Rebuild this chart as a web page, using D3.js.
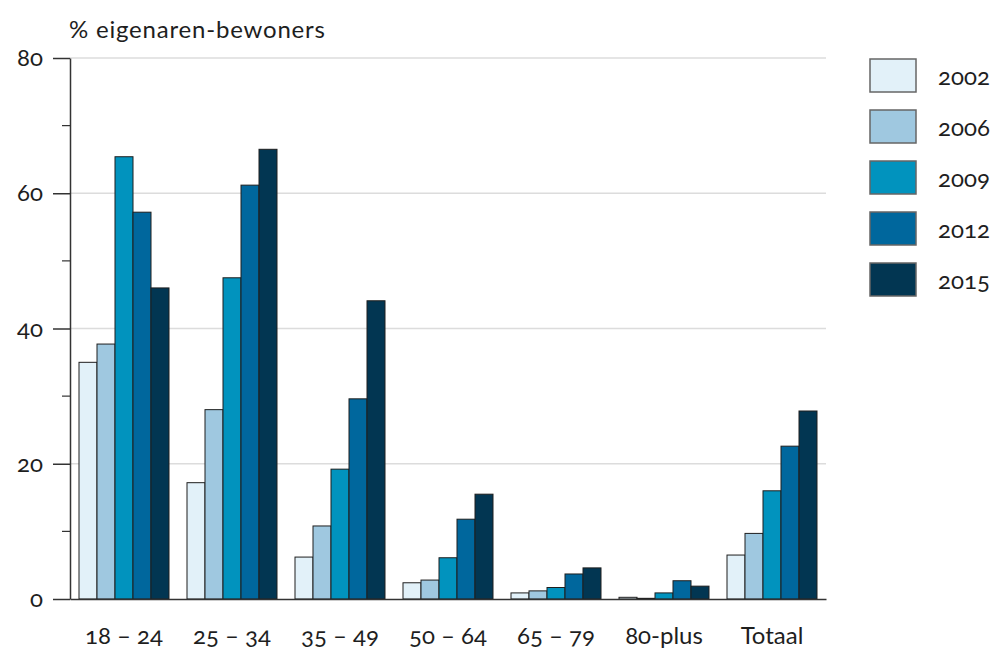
<!DOCTYPE html>
<html>
<head>
<meta charset="utf-8">
<script src="https://cdn.jsdelivr.net/npm/d3@7"></script>
<style>
  body { margin: 0; background: #fff; }
  svg text { font-family: Lato, "Open Sans", sans-serif; fill: #1e1e1e; font-variant-numeric: oldstyle-nums; font-feature-settings: "onum" 1; }
</style>
</head>
<body>
<svg id="chart"></svg>
<script>
// Age groups and survey years.
const categories = ["18 – 24", "25 – 34", "35 – 49", "50 – 64", "65 – 79", "80-plus", "Totaal"];
const years = ["2002", "2006", "2009", "2012", "2015"];
const colors = ["#e2f1f9", "#9fc8e0", "#0193be", "#00679d", "#023652"];

// Percentage owner-occupiers per year, one value per age group.
const v2002 = [35.0, 17.2, 6.2, 2.4, 0.9, 0.25, 6.5];
const v2006 = [37.7, 28.0, 10.8, 2.8, 1.2, 0.1, 9.7];
const v2009 = [65.4, 47.5, 19.2, 6.1, 1.7, 0.9, 16.0];
const v2012 = [57.2, 61.2, 29.6, 11.8, 3.7, 2.7, 22.6];
const v2015 = [46.0, 66.5, 44.1, 15.5, 4.6, 1.9, 27.8];
const series = [v2002, v2006, v2009, v2012, v2015];

const majorTicks = [0, 20, 40, 60, 80];
const minorTicks = [10, 30, 50, 70];

const width = 1001, height = 655;
const plotLeft = 70, plotRight = 826, plotTop = 58, plotBottom = 599;

const svg = d3.select("#chart").attr("width", width).attr("height", height);

const x = d3.scaleBand().domain(categories).range([plotLeft, plotRight])
    .paddingInner(1 / 6).paddingOuter(1 / 12);
const xInner = d3.scaleBand().domain(years).range([0, x.bandwidth()]);
const y = d3.scaleLinear().domain([0, 80]).range([plotBottom, plotTop]);

// Gridlines
svg.append("g").selectAll("line")
    .data(majorTicks.slice(1))
    .enter().append("line")
    .attr("x1", plotLeft).attr("x2", plotRight)
    .attr("y1", d => y(d)).attr("y2", d => y(d))
    .attr("stroke", "#dcdcdc").attr("stroke-width", 1.5);

// Bars
const groups = svg.append("g").selectAll("g")
    .data(categories)
    .enter().append("g")
    .attr("transform", d => `translate(${x(d)},0)`);

groups.selectAll("rect")
    .data((c, i) => years.map((yr, j) => ({ year: yr, value: series[j][i], color: colors[j] })))
    .enter().append("rect")
    .attr("x", d => xInner(d.year))
    .attr("width", xInner.bandwidth())
    .attr("y", d => y(d.value))
    .attr("height", d => plotBottom - y(d.value))
    .attr("fill", d => d.color)
    .attr("stroke", "#1e1e1e")
    .attr("stroke-width", 1);

// Y axis with major and minor ticks
const yAxis = svg.append("g").attr("transform", `translate(${plotLeft},0)`);
yAxis.call(d3.axisLeft(y).tickValues(majorTicks).tickSize(17).tickSizeOuter(0).tickFormat(d3.format("d")))
    .call(g => g.select(".domain").attr("stroke", "#333").attr("stroke-width", 1.5))
    .call(g => g.selectAll(".tick line").attr("stroke", "#333").attr("stroke-width", 1.5))
    .call(g => g.selectAll(".tick text").attr("x", -27).attr("font-size", 24).attr("fill", "#1e1e1e"));
yAxis.append("g").selectAll("line")
    .data(minorTicks)
    .enter().append("line")
    .attr("x1", -8).attr("x2", 0)
    .attr("y1", d => y(d)).attr("y2", d => y(d))
    .attr("stroke", "#333").attr("stroke-width", 1.2);

// X axis baseline and labels
const xAxis = svg.append("g").attr("transform", `translate(0,${plotBottom})`);
xAxis.call(d3.axisBottom(x).tickSize(0).tickPadding(28))
    .call(g => g.select(".domain").attr("stroke", "#333").attr("stroke-width", 1.5))
    .call(g => g.selectAll(".tick text").attr("font-size", 24).attr("fill", "#1e1e1e"));

// Axis title
svg.append("text")
    .attr("x", 69).attr("y", 38)
    .attr("font-size", 24)
    .attr("letter-spacing", 0.8)
    .text("% eigenaren-bewoners");

// Legend
const legend = svg.append("g").selectAll("g")
    .data(years)
    .enter().append("g")
    .attr("transform", (d, i) => `translate(870,${59 + i * 51})`);
legend.append("rect")
    .attr("width", 46).attr("height", 33)
    .attr("fill", (d, i) => colors[i])
    .attr("stroke", "#666").attr("stroke-width", 1.5);
legend.append("text")
    .attr("x", 68).attr("y", 26)
    .attr("font-size", 24)
    .text(d => d);
</script>
</body>
</html>
